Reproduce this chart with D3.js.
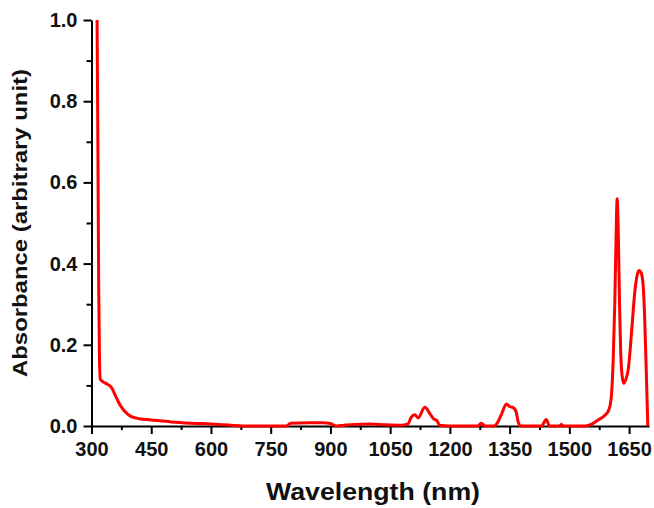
<!DOCTYPE html>
<html>
<head>
<meta charset="utf-8">
<script src="https://cdn.jsdelivr.net/npm/d3@7"></script>
<style>
  html, body { margin: 0; padding: 0; background: #fff; }
  svg { display: block; font-family: "Liberation Sans", Arial, sans-serif; }
</style>
</head>
<body>
<svg id="chart" width="654" height="508"></svg>
<script>
// Spectrum
const wavelengths = [314, 316, 318, 320, 322, 330, 340, 350, 360, 370, 380, 390, 400, 420, 450, 500, 550, 600, 650, 680, 750, 790,
  800, 850, 880, 900, 915, 935, 960, 1000, 1040, 1080, 1095, 1103, 1112, 1120, 1137, 1150, 1160, 1167, 1174, 1200,
  1270, 1279, 1288, 1310, 1318, 1330, 1342, 1350, 1358, 1366, 1372, 1378, 1430, 1442, 1450, 1475, 1480, 1485, 1540,
  1555, 1572, 1590, 1600, 1606, 1610, 1614, 1617, 1620, 1623, 1626, 1629, 1633, 1637, 1642, 1648, 1656, 1664, 1670,
  1675, 1680, 1685, 1689, 1693, 1697];
const absorbance = [1.0, 0.7, 0.35, 0.17, 0.115, 0.108, 0.103, 0.095, 0.075, 0.055, 0.04, 0.03, 0.023, 0.018, 0.015, 0.01, 0.007, 0.005, 0.002, 0.0, 0.0, 0.0,
  0.007, 0.008, 0.008, 0.006, 0.0, 0.002, 0.004, 0.005, 0.003, 0.002, 0.005, 0.022, 0.028, 0.02, 0.046, 0.03, 0.017, 0.014, 0.002, 0.0,
  0.0, 0.007, 0.0, 0.0, 0.006, 0.03, 0.054, 0.048, 0.046, 0.036, 0.008, 0.0, 0.0, 0.016, 0.0, 0.0, 0.004, 0.0, 0.0,
  0.004, 0.015, 0.027, 0.042, 0.08, 0.16, 0.3, 0.45, 0.56, 0.47, 0.3, 0.18, 0.12, 0.105, 0.115, 0.14, 0.228, 0.327, 0.37,
  0.383, 0.378, 0.35, 0.27, 0.14, 0.0];

// Tick labels
const xTicks = [300, 450, 600, 750, 900, 1050, 1200, 1350, 1500, 1650];
const xMinorTicks = [375, 525, 675, 825, 975, 1125, 1275, 1425, 1575];
const yTicks = [0.0, 0.2, 0.4, 0.6, 0.8, 1.0];
const yMinorTicks = [0.1, 0.3, 0.5, 0.7, 0.9];

const svg = d3.select('#chart');
const plot = { left: 91.5, right: 649, top: 20, bottom: 426 };

const x = d3.scaleLinear().domain([300, 1700]).range([plot.left, plot.right]);
const y = d3.scaleLinear().domain([0, 1]).range([plot.bottom, plot.top]);

// Axes: minor ticks first, then major ticks with labels
svg.append('g')
   .attr('transform', `translate(0,${plot.bottom})`)
   .call(d3.axisBottom(x).tickValues(xMinorTicks).tickSize(4).tickFormat(''))
   .call(g => g.select('.domain').remove())
   .selectAll('line').attr('stroke', '#000').attr('stroke-width', 2);

svg.append('g')
   .attr('transform', `translate(${plot.left},0)`)
   .call(d3.axisLeft(y).tickValues(yMinorTicks).tickSize(5).tickFormat(''))
   .call(g => g.select('.domain').remove())
   .selectAll('line').attr('stroke', '#000').attr('stroke-width', 2);

const xAxis = svg.append('g')
   .attr('transform', `translate(0,${plot.bottom})`)
   .call(d3.axisBottom(x).tickValues(xTicks).tickSize(8).tickSizeOuter(0).tickPadding(8).tickFormat(d3.format('d')));

const yAxis = svg.append('g')
   .attr('transform', `translate(${plot.left},0)`)
   .call(d3.axisLeft(y).tickValues(yTicks).tickSize(8).tickSizeOuter(0).tickPadding(6).tickFormat(d3.format('.1f')));

[xAxis, yAxis].forEach(axis => {
  axis.select('.domain').attr('stroke', '#000').attr('stroke-width', 2);
  axis.selectAll('line').attr('stroke', '#000').attr('stroke-width', 2);
  axis.selectAll('text')
      .attr('fill', '#111')
      .attr('font-size', '20px')
      .attr('font-weight', 'bold')
      .attr('font-family', '"Liberation Sans", Arial, sans-serif');
});

// Spectrum line
const line = d3.line()
  .x((d, i) => x(wavelengths[i]))
  .y(d => y(d))
  .curve(d3.curveMonotoneX);

svg.append('path')
   .datum(absorbance)
   .attr('d', line)
   .attr('fill', 'none')
   .attr('stroke', '#ff0000')
   .attr('stroke-width', 3)
   .attr('stroke-linejoin', 'round');

// Axis titles
svg.append('text')
   .attr('x', 373)
   .attr('y', 500)
   .attr('text-anchor', 'middle')
   .attr('font-size', '24px')
   .attr('font-weight', 'bold')
   .attr('fill', '#111')
   .attr('textLength', 214)
   .attr('lengthAdjust', 'spacingAndGlyphs')
   .text('Wavelength (nm)');

svg.append('text')
   .attr('transform', 'translate(27,223) rotate(-90)')
   .attr('text-anchor', 'middle')
   .attr('font-size', '21px')
   .attr('font-weight', 'bold')
   .attr('fill', '#111')
   .attr('textLength', 308)
   .attr('lengthAdjust', 'spacingAndGlyphs')
   .text('Absorbance (arbitrary unit)');
</script>
</body>
</html>
